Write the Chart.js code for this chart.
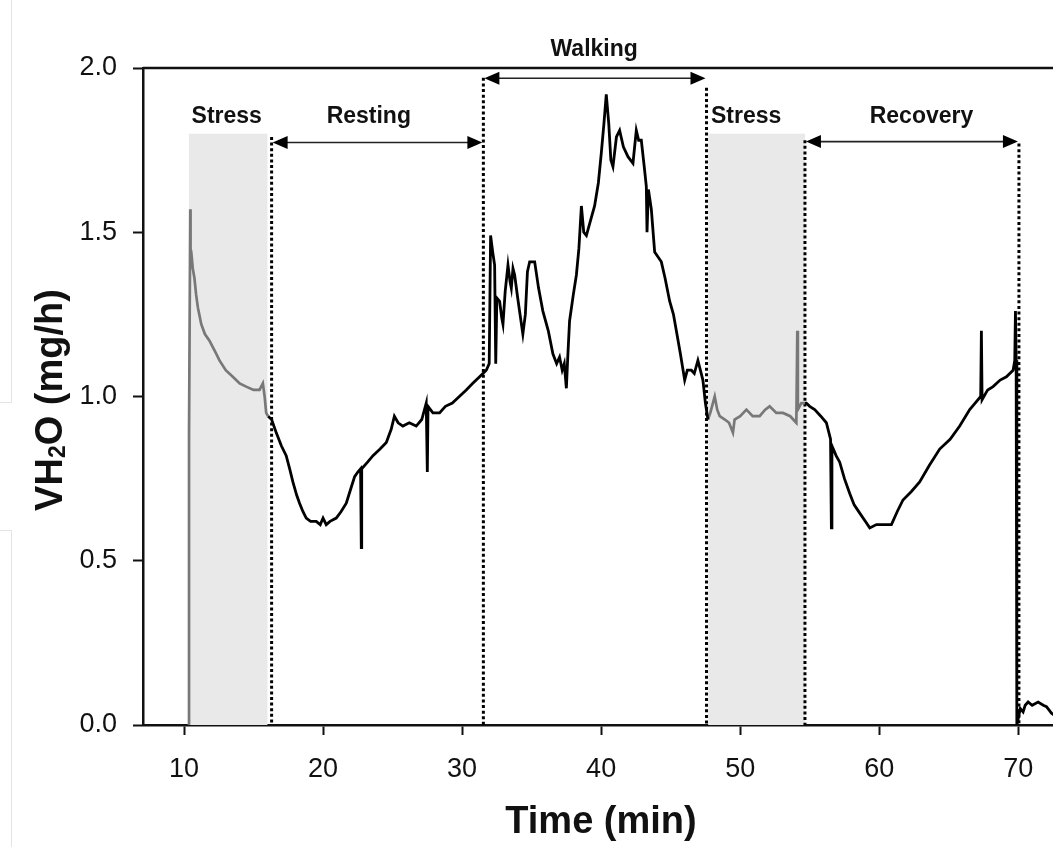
<!DOCTYPE html>
<html>
<head>
<meta charset="utf-8">
<script src="https://cdn.jsdelivr.net/npm/chart.js@4.4.1/dist/chart.umd.min.js"></script>
<style>
html, body { margin: 0; padding: 0; background: #fff; }
#wrap { position: relative; width: 1053px; height: 847px; }
.edge { position: absolute; left: 0; width: 11px; border-right: 1px solid #e4e4e4; }
canvas { position: absolute; left: 0; top: 0; }
</style>
</head>
<body>
<div id="wrap">
  <div class="edge" style="top:0;height:402px;border-bottom:1px solid #e4e4e4"></div>
  <div class="edge" style="top:530px;height:317px;border-top:1px solid #e4e4e4"></div>
  <canvas id="chart" width="1053" height="847"></canvas>
</div>
<script>
// axis ticks
const xTicks = [10, 20, 30, 40, 50, 60, 70];
const yTicks = [0, 0.5, 1.0, 1.5, 2.0];

// VH2O trace (time in min, mg/h)
// first stress phase (grey)
const stress1T = [10.36, 10.36, 10.45, 10.47, 10.52, 10.63, 10.75, 10.87, 11.0, 11.24, 11.5, 11.83, 12.2, 12.55, 13.0, 13.51, 14.0, 14.47, 15.0, 15.43, 15.67, 15.8, 15.91, 16.05];
const stress1V = [0.0, 0.88, 1.57, 1.45, 1.44, 1.39, 1.36, 1.31, 1.27, 1.22, 1.19, 1.17, 1.14, 1.11, 1.08, 1.06, 1.04, 1.03, 1.02, 1.02, 1.04, 1.0, 0.95, 0.94];

// resting + walking (black)
const activeT = [16.05, 16.3, 16.63, 17.0, 17.35, 17.6, 17.83, 18.1, 18.31, 18.55, 18.79, 19.1, 19.51, 19.8, 20.0, 20.23, 20.5, 20.95, 21.3, 21.67, 22.0, 22.27, 22.5, 22.7, 22.75, 22.78, 23.2, 23.59, 24.1, 24.55, 24.9, 25.13, 25.4, 25.74, 26.2, 26.7, 27.1, 27.42, 27.5, 27.55, 27.9, 28.38, 28.8, 29.3, 29.8, 30.3, 30.77, 31.26, 31.5, 31.74,
  31.95, 32.05, 32.2, 32.34, 32.42, 32.5, 32.7, 32.85, 32.94, 33.1, 33.3, 33.45, 33.54, 33.66, 33.78, 34.0, 34.2, 34.37, 34.55, 34.7, 34.86, 35.22, 35.5, 35.81, 36.2, 36.53, 36.8, 37.01, 37.2, 37.35, 37.5, 37.6, 37.73, 38.0, 38.22, 38.4, 38.58, 38.75, 38.94, 39.2, 39.53, 39.8, 40.01, 40.2, 40.37, 40.55, 40.7, 40.85, 41.1, 41.33, 41.6, 41.93, 42.29, 42.53, 42.7, 42.89, 43.1, 43.25, 43.3, 43.4, 43.61, 43.85, 44.33, 44.6, 44.93, 45.2, 45.41, 45.7, 46.01, 46.2, 46.49, 46.7, 46.96, 47.32, 47.5, 47.68];
const activeV = [0.94, 0.93, 0.89, 0.85, 0.82, 0.78, 0.74, 0.70, 0.675, 0.65, 0.63, 0.62, 0.62, 0.61, 0.63, 0.61, 0.62, 0.63, 0.65, 0.675, 0.72, 0.756, 0.77, 0.78, 0.54, 0.78, 0.80, 0.82, 0.84, 0.86, 0.90, 0.94, 0.92, 0.91, 0.92, 0.91, 0.93, 0.98, 0.77, 0.97, 0.95, 0.95, 0.97, 0.98, 1.0, 1.02, 1.04, 1.06, 1.07, 1.08,
  1.10, 1.49, 1.44, 1.40, 1.10, 1.30, 1.29, 1.24, 1.22, 1.32, 1.40, 1.35, 1.33, 1.39, 1.37, 1.30, 1.24, 1.19, 1.25, 1.38, 1.41, 1.41, 1.33, 1.26, 1.20, 1.13, 1.10, 1.12, 1.08, 1.10, 1.025, 1.12, 1.23, 1.31, 1.37, 1.45, 1.58, 1.50, 1.49, 1.53, 1.58, 1.65, 1.74, 1.83, 1.92, 1.83, 1.72, 1.70, 1.79, 1.81, 1.76, 1.73, 1.71, 1.81, 1.78, 1.78, 1.70, 1.64, 1.50, 1.63, 1.57, 1.44, 1.41, 1.36, 1.29, 1.25, 1.20, 1.13, 1.05, 1.08, 1.08, 1.07, 1.11, 1.05, 0.98, 0.93];

// second stress phase (grey)
const stress2T = [47.68, 47.85, 48.04, 48.17, 48.35, 48.53, 48.9, 49.2, 49.48, 49.6, 50.0, 50.45, 50.9, 51.4, 51.8, 52.12, 52.6, 53.08, 53.6, 54.04, 54.11, 54.15, 54.4, 54.66];
const stress2V = [0.93, 0.95, 0.98, 1.0, 0.96, 0.94, 0.93, 0.92, 0.89, 0.93, 0.94, 0.96, 0.94, 0.94, 0.96, 0.97, 0.95, 0.95, 0.94, 0.92, 1.20, 0.96, 0.98, 0.98];

// recovery (black)
const recoveryT = [54.66, 54.76, 55.0, 55.36, 55.8, 56.2, 56.5, 56.56, 56.6, 56.9, 57.16, 57.5, 57.88, 58.2, 58.6, 59.0, 59.32, 59.8, 60.27, 60.88, 61.3, 61.71, 62.3, 62.91, 63.6, 64.35, 65.1, 65.79, 66.51, 66.9, 67.3, 67.35, 67.4, 67.8, 68.19, 68.7, 69.15, 69.63, 69.75, 69.8, 69.85, 69.9, 70.0, 70.15, 70.35, 70.5, 70.71, 71.0, 71.43, 71.8, 72.03, 72.39, 72.6];
const recoveryV = [0.98, 0.98, 0.97, 0.96, 0.94, 0.92, 0.87, 0.60, 0.85, 0.82, 0.80, 0.75, 0.705, 0.67, 0.645, 0.62, 0.60, 0.61, 0.61, 0.61, 0.65, 0.685, 0.71, 0.74, 0.79, 0.84, 0.87, 0.91, 0.96, 0.98, 1.0, 1.20, 0.99, 1.02, 1.03, 1.05, 1.06, 1.08, 1.11, 1.26, 1.11, 0.0, 0.02, 0.05, 0.04, 0.06, 0.07, 0.06, 0.07, 0.06, 0.056, 0.036, 0.03];

// protocol phases
const shadeFrom = [10.35, 47.7];
const shadeTo = [16.0, 54.66];
const shadeTop = 1.8;
const dividerAt = [16.3, 31.53, 47.58, 54.66, 70.05];
const dividerTop = [1.79, 1.97, 1.94, 1.78, 1.77];
const arrowFrom = [16.3, 31.53, 54.66];
const arrowTo = [31.53, 47.58, 70.05];
const arrowLevel = [1.773, 1.969, 1.776];
const phaseNames = ['Stress', 'Resting', 'Walking', 'Stress', 'Recovery'];
const phaseX = [13.07, 23.29, 39.5, 50.43, 63.04];
const phaseY = [1.833, 1.833, 2.037, 1.833, 1.833];

const FONT = "'Liberation Sans', Arial, sans-serif";

function pts(t, v) {
    return t.map((x, i) => ({ x: x, y: v[i] }));
}

function arrowHead(ctx, x, y, dir) {
    ctx.beginPath();
    ctx.moveTo(x, y);
    ctx.lineTo(x - dir * 15, y - 6.5);
    ctx.lineTo(x - dir * 15, y + 6.5);
    ctx.closePath();
    ctx.fill();
}

const phases = {
    id: 'phases',
    beforeDatasetsDraw(chart) {
        const { ctx, scales: { x, y } } = chart;
        ctx.save();
        ctx.fillStyle = '#e9e9e9';
        shadeFrom.forEach((a, i) => {
            const x0 = x.getPixelForValue(a);
            const x1 = x.getPixelForValue(shadeTo[i]);
            const y0 = y.getPixelForValue(shadeTop);
            const y1 = y.getPixelForValue(0);
            ctx.fillRect(x0, y0, x1 - x0, y1 - y0);
        });
        ctx.strokeStyle = '#000';
        ctx.lineWidth = 3;
        ctx.setLineDash([3, 2.6]);
        dividerAt.forEach((d, i) => {
            const px = x.getPixelForValue(d);
            ctx.beginPath();
            ctx.moveTo(px, y.getPixelForValue(dividerTop[i]));
            ctx.lineTo(px, y.getPixelForValue(0));
            ctx.stroke();
        });
        ctx.restore();
    },
    afterDraw(chart) {
        const { ctx, chartArea, scales: { x, y } } = chart;
        ctx.save();
        // top frame line
        ctx.strokeStyle = '#111';
        ctx.lineWidth = 2.5;
        ctx.beginPath();
        ctx.moveTo(chartArea.left, chartArea.top);
        ctx.lineTo(chartArea.right, chartArea.top);
        ctx.stroke();

        // phase arrows
        ctx.fillStyle = '#000';
        ctx.strokeStyle = '#222';
        ctx.lineWidth = 1.6;
        arrowFrom.forEach((a, i) => {
            const x0 = x.getPixelForValue(a) + 1;
            const x1 = x.getPixelForValue(arrowTo[i]) - 1;
            const py = y.getPixelForValue(arrowLevel[i]);
            ctx.beginPath();
            ctx.moveTo(x0 + 10, py);
            ctx.lineTo(x1 - 10, py);
            ctx.stroke();
            arrowHead(ctx, x0, py, -1);
            arrowHead(ctx, x1, py, 1);
        });

        // phase names
        ctx.font = 'bold 23px ' + FONT;
        ctx.textAlign = 'center';
        ctx.textBaseline = 'alphabetic';
        ctx.fillStyle = '#111';
        phaseNames.forEach((n, i) => {
            ctx.fillText(n, x.getPixelForValue(phaseX[i]), y.getPixelForValue(phaseY[i]));
        });

        // x title
        ctx.font = 'bold 38px ' + FONT;
        ctx.fillText('Time (min)', 601, 833);

        // y title with subscript
        ctx.translate(62, 400);
        ctx.rotate(-Math.PI / 2);
        ctx.textAlign = 'left';
        const big = 'bold 38px ' + FONT, small = 'bold 23px ' + FONT;
        ctx.font = big;
        const w1 = ctx.measureText('VH').width;
        const w3 = ctx.measureText('O (mg/h)').width;
        ctx.font = small;
        const w2 = ctx.measureText('2').width;
        let sx = -(w1 + w2 + w3) / 2;
        ctx.font = big;
        ctx.fillText('VH', sx, 0);
        ctx.font = small;
        ctx.fillText('2', sx + w1, 3);
        ctx.font = big;
        ctx.fillText('O (mg/h)', sx + w1 + w2, 0);
        ctx.restore();
    }
};

new Chart(document.getElementById('chart'), {
    type: 'line',
    data: {
        datasets: [
            { data: pts(stress1T, stress1V), borderColor: '#787878', borderWidth: 2.7 },
            { data: pts(activeT, activeV), borderColor: '#000', borderWidth: 2.8 },
            { data: pts(stress2T, stress2V), borderColor: '#787878', borderWidth: 2.7 },
            { data: pts(recoveryT, recoveryV), borderColor: '#000', borderWidth: 2.8 }
        ]
    },
    options: {
        responsive: false,
        animation: false,
        events: [],
        elements: {
            point: { radius: 0 },
            line: { tension: 0, borderJoinStyle: 'miter', fill: false }
        },
        layout: { padding: { top: 68, left: 0, right: 0, bottom: 0 } },
        plugins: {
            legend: { display: false },
            tooltip: { enabled: false }
        },
        scales: {
            x: {
                type: 'linear',
                min: 7.05,
                max: 72.5,
                afterBuildTicks: s => { s.ticks = xTicks.map(v => ({ value: v })); },
                afterFit: s => { s.height = 122; },
                ticks: {
                    color: '#111',
                    font: { family: FONT, size: 27 },
                    padding: 18,
                    maxRotation: 0
                },
                grid: {
                    drawOnChartArea: false,
                    tickLength: 10,
                    tickWidth: 2,
                    tickColor: '#111'
                },
                border: { color: '#111', width: 2.5 }
            },
            y: {
                min: 0,
                max: 2,
                afterBuildTicks: s => { s.ticks = yTicks.map(v => ({ value: v })); },
                afterFit: s => { s.width = 143; },
                ticks: {
                    color: '#111',
                    font: { family: FONT, size: 27 },
                    padding: 16,
                    callback: v => v.toFixed(1)
                },
                grid: {
                    drawOnChartArea: false,
                    tickLength: 10,
                    tickWidth: 2,
                    tickColor: '#111'
                },
                border: { color: '#111', width: 2.5 }
            }
        }
    },
    plugins: [phases]
});
</script>
</body>
</html>
